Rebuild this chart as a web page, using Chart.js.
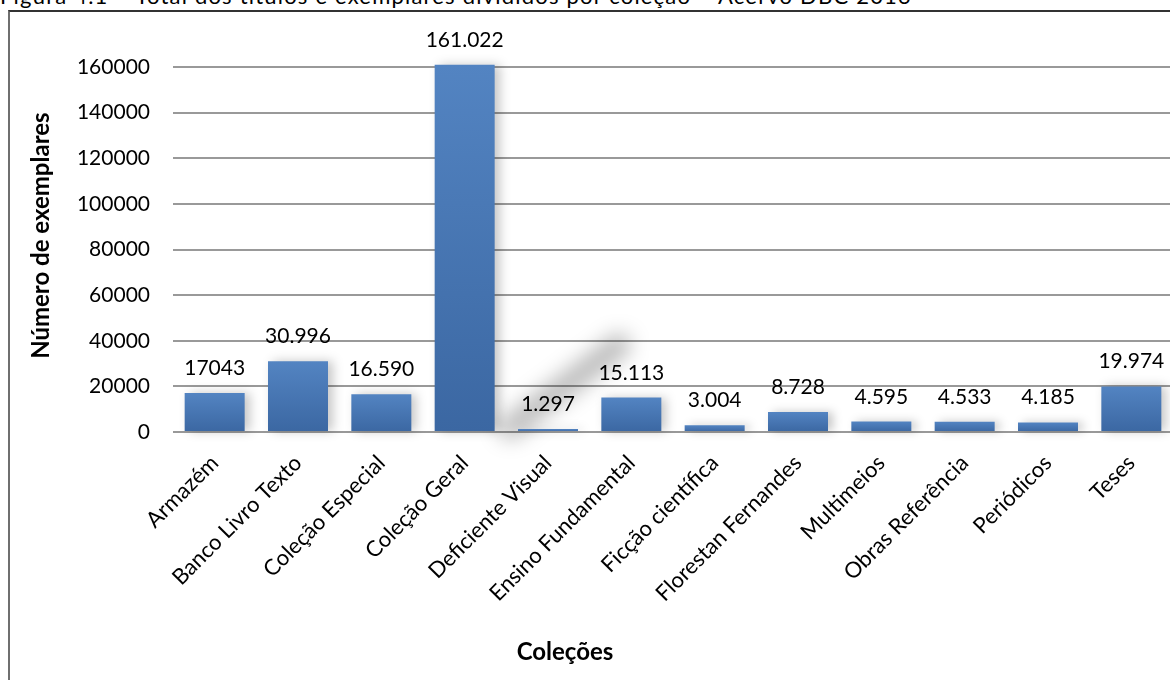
<!DOCTYPE html>
<html>
<head>
<meta charset="utf-8">
<script src="https://cdn.jsdelivr.net/npm/chart.js@4"></script>
<style>
  html, body { margin: 0; padding: 0; background: #fff; }
  body { width: 1170px; height: 680px; overflow: hidden; position: relative; }
  #caption {
    position: absolute; left: 0; top: -18px; white-space: nowrap;
    font: 22px Lato, sans-serif; color: #000; letter-spacing: 1.2px;
  }
  #frame {
    position: absolute; left: 8px; top: 10px; width: 1300px; height: 800px;
    border-left: 2px solid #6f6f6f; border-top: 2px solid #333;
  }
  #chart { position: absolute; left: 0; top: 0; }
</style>
</head>
<body>
<div id="caption">Figura 4.1 – Total dos títulos e exemplares divididos por coleção – Acervo DBC 2013</div>
<div id="frame"></div>
<canvas id="chart" width="1180" height="680"></canvas>
<script>
// coleções e número de exemplares de cada uma
const categories = ['Armazém', 'Banco Livro Texto', 'Coleção Especial', 'Coleção Geral',
  'Deficiente Visual', 'Ensino Fundamental', 'Ficção científica', 'Florestan Fernandes',
  'Multimeios', 'Obras Referência', 'Periódicos', 'Teses'];
const exemplares = [17043, 30996, 16590, 161022, 1297, 15113, 3004, 8728, 4595, 4533, 4185, 19974];
const valueLabels = ['17043', '30.996', '16.590', '161.022', '1.297', '15.113', '3.004',
  '8.728', '4.595', '4.533', '4.185', '19.974'];
const yMax = 160000;
const yStep = 20000;

const FONT = 'Lato, "Open Sans", sans-serif';

// gradiente vertical de cada barra (mais claro no topo)
function barGradient(context) {
  const chart = context.chart;
  const y = chart.scales.y;
  if (!y || context.type !== 'data') return '#4a78b4';
  const top = y.getPixelForValue(context.raw);
  const base = y.getPixelForValue(0);
  if (!isFinite(top) || !isFinite(base)) return '#4a78b4';
  const g = chart.ctx.createLinearGradient(0, top, 0, base);
  g.addColorStop(0, '#5384c2');
  g.addColorStop(1, '#3b67a2');
  return g;
}

const decorPlugin = {
  id: 'decor',
  beforeDatasetsDraw(chart) {
    const ctx = chart.ctx;
    const x = chart.scales.x, y = chart.scales.y;
    // mancha de sombra diagonal entre as colunas
    ctx.save();
    ctx.filter = 'blur(10px)';
    ctx.strokeStyle = 'rgba(0,0,0,0.26)';
    ctx.lineWidth = 24;
    ctx.lineCap = 'round';
    ctx.beginPath();
    ctx.moveTo(x.getPixelForValue(3.55), y.getPixelForValue(2000));
    ctx.lineTo(x.getPixelForValue(4.85), y.getPixelForValue(38000));
    ctx.stroke();
    ctx.restore();
    // sombra das barras
    ctx.save();
    ctx.shadowColor = 'rgba(0,0,0,0.22)';
    ctx.shadowBlur = 10;
    ctx.shadowOffsetX = 5;
    ctx.shadowOffsetY = 0;
  },
  afterDatasetsDraw(chart) {
    const ctx = chart.ctx;
    ctx.restore();
    // rótulos de valor acima das barras
    const meta = chart.getDatasetMeta(0);
    ctx.save();
    ctx.font = '21px ' + FONT;
    ctx.fillStyle = '#000';
    ctx.textAlign = 'center';
    ctx.textBaseline = 'alphabetic';
    meta.data.forEach((bar, i) => {
      ctx.fillText(valueLabels[i], bar.x, bar.y - 18);
    });
    ctx.restore();
  },
  afterDraw(chart) {
    const ctx = chart.ctx;
    const area = chart.chartArea;
    ctx.save();
    ctx.font = 'bold 24px ' + FONT;
    ctx.fillStyle = '#000';
    ctx.textAlign = 'center';
    ctx.textBaseline = 'middle';
    // título do eixo x
    ctx.fillText('Coleções', area.left + (area.right - area.left) * 0.392, 652);
    // título do eixo y
    ctx.translate(41, area.top + (area.bottom - area.top) * 0.462);
    ctx.rotate(-Math.PI / 2);
    ctx.fillText('Número de exemplares', 0, 0);
    ctx.restore();
  }
};

const chart = new Chart(document.getElementById('chart'), {
  type: 'bar',
  data: {
    labels: categories,
    datasets: [{
      data: exemplares,
      backgroundColor: barGradient,
      borderWidth: 0,
      barPercentage: 1,
      categoryPercentage: 0.72,
      clip: false
    }]
  },
  options: {
    responsive: false,
    animation: false,
    devicePixelRatio: 1,
    layout: { padding: { top: 67, right: 7, left: 0, bottom: 0 } },
    plugins: {
      legend: { display: false },
      tooltip: { enabled: false }
    },
    scales: {
      x: {
        grid: { display: false, drawTicks: false },
        border: { display: false },
        afterFit(scale) { scale.height = 248; },
        ticks: {
          autoSkip: false,
          minRotation: 45,
          maxRotation: 45,
          padding: 18,
          color: '#000',
          font: { family: FONT, size: 22 }
        }
      },
      y: {
        min: 0,
        max: yMax,
        afterFit(scale) { scale.width = 173; },
        grid: { color: '#999', lineWidth: 2, drawTicks: false },
        border: { display: false },
        ticks: {
          stepSize: yStep,
          padding: 23,
          color: '#000',
          font: { family: FONT, size: 21 },
          callback: (v) => String(v)
        }
      }
    }
  },
  plugins: [decorPlugin]
});
</script>
</body>
</html>
